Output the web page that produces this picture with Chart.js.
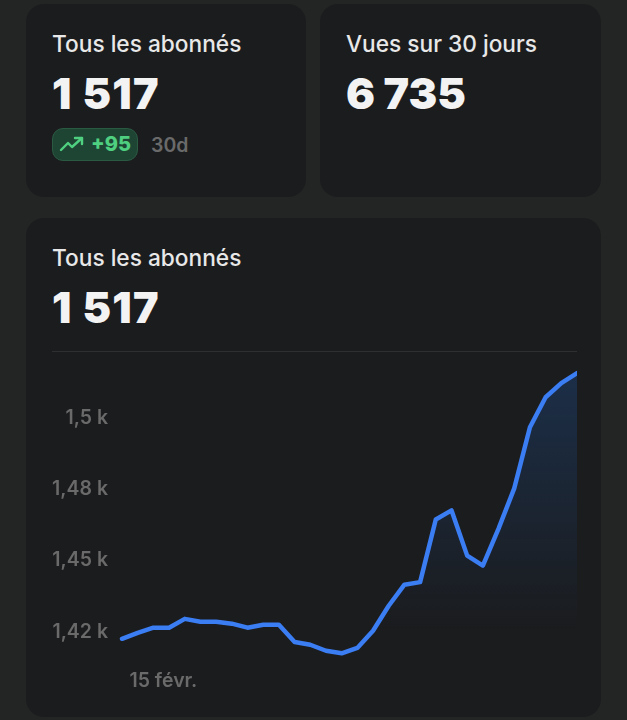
<!DOCTYPE html>
<html lang="fr">
<head>
<meta charset="utf-8">
<title>Tous les abonnés</title>
<script src="https://cdn.jsdelivr.net/npm/chart.js@4"></script>
<style>
html, body { margin: 0; padding: 0; }
body { width: 627px; height: 720px; background: #232524; position: relative; overflow: hidden; font-family: Inter, sans-serif; }
.card { position: absolute; background: #1b1c1e; border-radius: 18px; }
.title { position: absolute; left: 26px; top: 26px; font-size: 22.7px; line-height: 28px; font-weight: 500; color: #e8e8e8; white-space: nowrap; }
.big { position: absolute; left: 26px; top: 63px; font-size: 43px; line-height: 52px; font-weight: 900; color: #f3f3f3; white-space: nowrap; }
.big.large1 { letter-spacing: 1.2px; }
.pill { position: absolute; left: 26px; top: 124px; width: 84px; height: 31px; border: 1px solid #2b5a43; border-radius: 11px; background: #1e4534; color: #4fd080; font-size: 20px; font-weight: 800; line-height: 31px; }
.pill svg { position: absolute; left: 6px; top: 5px; }
.pill span { position: absolute; left: 38px; }
.period { position: absolute; left: 125px; top: 127px; font-size: 19.5px; line-height: 28px; font-weight: 600; color: #6a6a6a; }
#wrap { position: absolute; left: 52px; top: 351px; width: 525px; height: 353px; border-top: 1px solid #2e2f31; box-sizing: content-box; }
</style>
</head>
<body>
<div class="card" style="left:26px;top:4px;width:280px;height:193px">
  <div class="title">Tous les abonnés</div>
  <div class="big large1">1 517</div>
  <div class="pill">
    <svg width="26" height="20" viewBox="0 0 26 20" fill="none" stroke="#4fd080" stroke-width="2.4" stroke-linecap="round" stroke-linejoin="round"><path d="M2 16 L9 9 L13 13 L23 4"/><path d="M16 4 L23 4 L23 10"/></svg>
    <span>+95</span>
  </div>
  <div class="period">30d</div>
</div>
<div class="card" style="left:320px;top:4px;width:281px;height:193px">
  <div class="title">Vues sur 30 jours</div>
  <div class="big">6 735</div>
</div>
<div class="card" style="left:26px;top:218px;width:575px;height:499px">
  <div class="title">Tous les abonnés</div>
  <div class="big large1">1 517</div>
</div>
<div id="wrap"><canvas id="myChart"></canvas></div>

<script>
const labels = [
    '13 févr.', '14 févr.', '15 févr.', '16 févr.', '17 févr.', '18 févr.',
    '19 févr.', '20 févr.', '21 févr.', '22 févr.', '23 févr.', '24 févr.',
    '25 févr.', '26 févr.', '27 févr.', '28 févr.', '1 mars', '2 mars',
    '3 mars', '4 mars', '5 mars', '6 mars', '7 mars', '8 mars',
    '9 mars', '10 mars', '11 mars', '12 mars', '13 mars', '14 mars'
];
const abonnes = [
    1422.2, 1424.3, 1426.1, 1426.1, 1429.2, 1428.2,
    1428.2, 1427.5, 1426.1, 1427.1, 1427.1, 1421.1,
    1420.1, 1418.0, 1417.1, 1419.0, 1425.0, 1433.8,
    1441.2, 1442.1, 1464.1, 1467.3, 1451.4, 1447.9,
    1460.9, 1475.0, 1496.5, 1507.0, 1512.0, 1515.5
];
const tickValues = [1425, 1450, 1475, 1500];
const tickLabels = ['1,42 k', '1,45 k', '1,48 k', '1,5 k'];
const dateAffichee = '15 févr.';

const ctx = document.getElementById('myChart').getContext('2d');
const myChart = new Chart(ctx, {
    type: 'line',
    data: {
        labels: labels,
        datasets: [{
            label: 'Tous les abonnés',
            data: abonnes,
            borderColor: '#3b7df2',
            borderWidth: 4.5,
            borderCapStyle: 'round',
            borderJoinStyle: 'round',
            pointRadius: 0,
            tension: 0,
            clip: false,
            fill: 'origin',
            backgroundColor: function (context) {
                const area = context.chart.chartArea;
                if (!area) return 'transparent';
                const grad = context.chart.ctx.createLinearGradient(0, area.top + 20, 0, area.bottom - 30);
                grad.addColorStop(0, 'rgba(30, 90, 170, 0.3)');
                grad.addColorStop(1, 'rgba(30, 90, 170, 0)');
                return grad;
            }
        }]
    },
    options: {
        responsive: true,
        maintainAspectRatio: false,
        animation: false,
        plugins: { legend: { display: false }, tooltip: { enabled: false } },
        scales: {
            x: {
                border: { display: false },
                grid: { display: false, drawTicks: false },
                afterFit: function (scale) {
                    scale.height = 44;
                    scale.paddingLeft = 0;
                    scale.paddingRight = 0;
                },
                ticks: {
                    autoSkip: false,
                    maxRotation: 0,
                    padding: 8,
                    labelOffset: 10,
                    color: '#6a6a6a',
                    font: { family: 'Inter', size: 19.5, weight: '600' },
                    callback: function (value, index) {
                        return labels[index] === dateAffichee ? dateAffichee : '';
                    }
                }
            },
            y: {
                min: 1414.4,
                max: 1522.9,
                border: { display: false },
                grid: { display: false, drawTicks: false },
                afterBuildTicks: function (scale) {
                    scale.ticks = tickValues.map(v => ({ value: v }));
                },
                afterFit: function (scale) {
                    scale.width = 70;
                    scale.paddingTop = 0;
                    scale.paddingBottom = 0;
                },
                ticks: {
                    padding: 14,
                    labelOffset: 1,
                    color: '#6a6a6a',
                    font: { family: 'Inter', size: 19.5, weight: '600' },
                    callback: function (value, index) {
                        return tickLabels[index];
                    }
                }
            }
        }
    }
});
</script>
</body>
</html>
